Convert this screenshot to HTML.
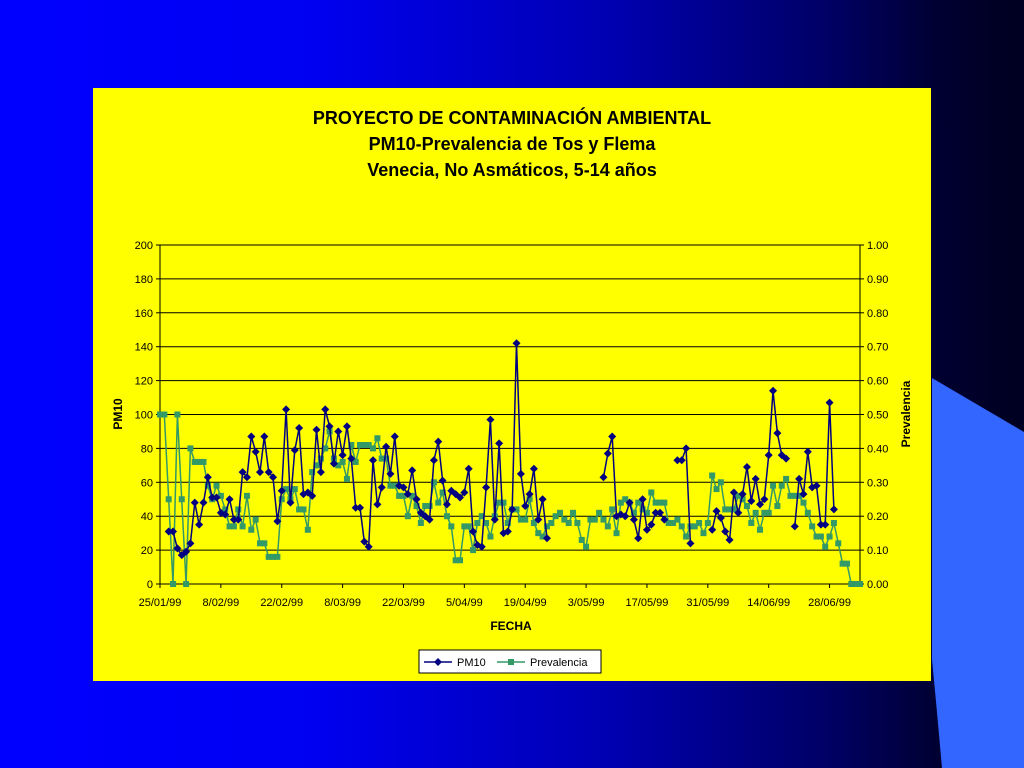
<!DOCTYPE html>
<html><head><meta charset="utf-8"><style>
body{margin:0;width:1024px;height:768px;overflow:hidden;font-family:"Liberation Sans",sans-serif}
#bg{position:absolute;left:0;top:0;width:1024px;height:768px;background:linear-gradient(to right,#0000ff 0%,#0000f2 30%,#0000b0 60%,#000060 82%,#000030 92%,#000020 100%)}
</style></head><body>
<div id="bg"></div>
<svg width="1024" height="768" style="position:absolute;left:0;top:0">
<path d="M932,378 L1024,432 L1024,768 L942,768 Q936,700 932,660 Z" fill="#3366ff"/>
<rect x="93" y="88" width="838" height="593" fill="#ffff00"/>
<g font-weight="bold" font-size="18" text-anchor="middle" fill="#000">
<text x="512" y="124">PROYECTO DE CONTAMINACIÓN AMBIENTAL</text>
<text x="512" y="150">PM10-Prevalencia de Tos y Flema</text>
<text x="512" y="176">Venecia, No Asmáticos, 5-14 años</text>
</g>
<g id="grid"></g>
<g id="axes"></g>
<g id="series"></g>
<text x="0" y="0" transform="translate(122,414) rotate(-90)" text-anchor="middle" font-size="12" font-weight="bold">PM10</text>
<text x="0" y="0" transform="translate(910,414) rotate(-90)" text-anchor="middle" font-size="12" font-weight="bold">Prevalencia</text>
<text x="511" y="630" text-anchor="middle" font-size="12" font-weight="bold">FECHA</text>
<g>
<rect x="419" y="650" width="182" height="23" fill="#fff" stroke="#000" stroke-width="1"/>
<g>
<line x1="424" y1="662" x2="452" y2="662" stroke="#000080" stroke-width="1.5"/>
<path d="M438,658 L442,662 L438,666 L434,662 Z" fill="#000080"/>
<text x="457" y="666" font-size="11">PM10</text></g>
<g>
<line x1="497" y1="662" x2="525" y2="662" stroke="#339966" stroke-width="1.5"/>
<rect x="508" y="659" width="6" height="6" fill="#339966"/>
<text x="530" y="666" font-size="11">Prevalencia</text></g>
</g>
</svg>
<script>
const leftTicks=[0,20,40,60,80,100,120,140,160,180,200];
const rightTicks=["0.00","0.10","0.20","0.30","0.40","0.50","0.60","0.70","0.80","0.90","1.00"];
const dateLabels=["25/01/99","8/02/99","22/02/99","8/03/99","22/03/99","5/04/99","19/04/99","3/05/99","17/05/99","31/05/99","14/06/99","28/06/99"];
const pm10Runs=[
 [2,[31,31,21,17,19,24,48,35,48,63,51,51,42,41,50,38,38,66,63,87,78,66,87,66,63,37,55,103,48,79,92,53,54,52,91,66,103,93,71,90,76,93,74,45,45,25,22,73,47,57,81,65,87,58,57,53,67,50,42,40,38,73,84,61,47,55,53,51,54,68,31,23,22,57,97,38,83,30,31,44,142,65,46,53,68,38,50,27]],
 [102,[63,77,87,40,41,40,48,38,27,50,32,35,42,42,38]],
 [119,[73,73,80,24]],
 [127,[32,43,39,31,26,54,42,53,69,49,62,47,50,76,114,89,76,74]],
 [146,[34,62,53,78,57,58,35,35,107,44]]
];
const prevStart=0;
const prevValues=[.50,.50,.25,0,.50,.25,0,.40,.36,.36,.36,.29,.25,.29,.26,.22,.17,.17,.22,.17,.26,.16,.19,.12,.12,.08,.08,.08,.25,.28,.25,.28,.22,.22,.16,.33,.35,.37,.40,.45,.37,.35,.36,.31,.41,.36,.41,.41,.41,.40,.43,.37,.37,.29,.29,.26,.26,.20,.26,.23,.18,.23,.23,.30,.24,.27,.20,.17,.07,.07,.17,.17,.10,.18,.20,.18,.14,.20,.24,.24,.18,.22,
.22,.19,.19,.25,.18,.15,.14,.17,.18,.20,.21,.19,.18,.21,.18,.13,.11,.19,.19,.21,.19,.17,.22,.15,.24,.25,.24,.21,.24,.22,.21,.27,.24,.24,.24,.18,.18,.19,.17,.14,.17,.17,
.18,.15,.18,.32,.28,.30,.22,.22,.22,.26,.25,.23,.18,.21,.16,.21,.21,.29,.23,.29,.31,.26,.26,.26,.24,.21,.17,.14,.14,.11,.14,.18,.12,.06,.06,0,0,0];
const X0=160,X1=860,Y0=584,Y1=245,DMAX=161,TICKSTEP=14;
const xs=d=>X0+d*(X1-X0)/DMAX;
const yL=v=>Y0-v*(Y0-Y1)/200;
const yR=v=>Y0-v*(Y0-Y1)/1;
const NS="http://www.w3.org/2000/svg";
function mk(t,p,parent){const e=document.createElementNS(NS,t);for(const k in p)e.setAttribute(k,p[k]);parent.appendChild(e);return e;}
const grid=document.getElementById('grid'),axes=document.getElementById('axes'),ser=document.getElementById('series');
leftTicks.forEach((v,i)=>{
 const y=yL(v);
 if(i>0){const g=mk('line',{x1:X0,x2:X1,y1:y,y2:y,stroke:'#000','stroke-width':1},grid);
 
 }
 mk('line',{x1:X0-4,x2:X0,y1:y,y2:y,stroke:'#000'},axes);
 mk('line',{x1:X1,x2:X1+4,y1:y,y2:y,stroke:'#000'},axes);
 const t=mk('text',{x:X0-7,y:y+4,'text-anchor':'end','font-size':11},axes);t.textContent=v;
 
 
 const r=mk('text',{x:X1+7,y:y+4,'font-size':11},axes);r.textContent=rightTicks[i];
 
 
});
mk('line',{x1:X0,x2:X0,y1:Y1,y2:Y0,stroke:'#000'},axes);
mk('line',{x1:X1,x2:X1,y1:Y1,y2:Y0,stroke:'#000'},axes);
mk('line',{x1:X0,x2:X1,y1:Y0,y2:Y0,stroke:'#000'},axes);
dateLabels.forEach((s,i)=>{
 const x=xs(i*TICKSTEP);
 mk('line',{x1:x,x2:x,y1:Y0,y2:Y0+4,stroke:'#000'},axes);
 const t=mk('text',{x:x,y:Y0+22,'text-anchor':'middle','font-size':11},axes);t.textContent=s;
 
 
});
// prevalencia
const pp=prevValues.map((v,i)=>xs(prevStart+i).toFixed(1)+','+yR(v).toFixed(1)).join(' ');
const pl=mk('polyline',{points:pp,fill:'none',stroke:'#339966','stroke-width':1.5},ser);


prevValues.forEach((v,i)=>{
 const m=mk('rect',{x:xs(prevStart+i)-3,y:yR(v)-3,width:6,height:6,fill:'#339966'},ser);
 
 
});
// pm10
pm10Runs.forEach(([start,vals])=>{
 const p=vals.map((v,i)=>xs(start+i).toFixed(1)+','+yL(v).toFixed(1)).join(' ');
 const l=mk('polyline',{points:p,fill:'none',stroke:'#000080','stroke-width':1.5},ser);
 
 
 vals.forEach((v,i)=>{
  const x=xs(start+i),y=yL(v);
  const m=mk('path',{d:`M${x},${y-4}L${x+4},${y}L${x},${y+4}L${x-4},${y}Z`,fill:'#000080'},ser);
  
  
 });
});
</script>
</body></html>
